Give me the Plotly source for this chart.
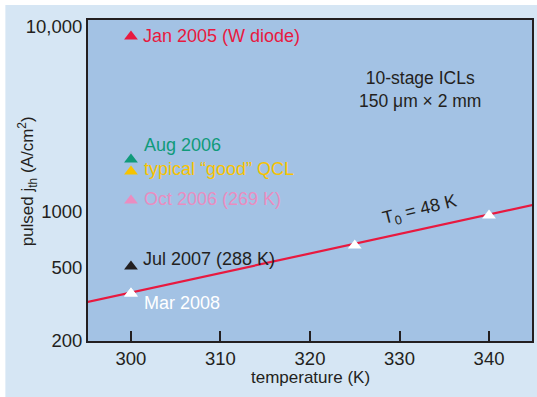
import plotly.graph_objects as go
import math

# ---- data ----
labels = ["Jan 2005 (W diode)", "Aug 2006", "typical \u201cgood\u201d QCL",
          "Oct 2006 (269 K)", "Jul 2007 (288 K)", "Mar 2008"]
label_temps = [300, 300, 300, 300, 300, 300]
label_jth = [8850, 1914, 1648, 1148, 506, 361]
label_colors = ["#e8193f", "#0f9a7a", "#f7c300", "#ea8dc0", "#231f20", "#ffffff"]

icl_temps = [300, 325, 340]
icl_jth = [361, 656, 953]

fit_temps = [295, 345]
fit_jth = [324, 1090]

x_ticks = [300, 310, 320, 330, 340]
y_ticks = [200, 500, 1000, 10000]
y_ticktext = ["200", "500", "1000", "10,000"]

# label pixel offsets (x, y) relative to their markers
label_shift = [(10, 0), (11, 15), (11, 3), (11, 2), (10, 7), (11, -9)]

FONT = "Liberation Sans, Arial, sans-serif"
DARK = "#231f20"
OUTER = "#d6e6f4"
INNER = "#a3c2e4"

fig = go.Figure()

fig.add_trace(go.Scatter(x=fit_temps, y=fit_jth, mode="lines",
                         line=dict(color="#e8193f", width=2.2),
                         showlegend=False, hoverinfo="skip", cliponaxis=True))

for t, j, c, name in zip(label_temps, label_jth, label_colors, labels):
    fig.add_trace(go.Scatter(x=[t], y=[j], mode="markers", name=name,
                             marker=dict(symbol="triangle-up", size=12, color=c,
                                         line=dict(width=0)),
                             showlegend=False))

fig.add_trace(go.Scatter(x=icl_temps, y=icl_jth, mode="markers", name="ICL",
                         marker=dict(symbol="triangle-up", size=12, color="#ffffff",
                                     line=dict(width=0)),
                         showlegend=False))

annotations = []
for t, j, c, name, (dx, dy) in zip(label_temps, label_jth, label_colors, labels, label_shift):
    annotations.append(dict(x=t, y=math.log10(j), xref="x", yref="y", text=name,
                            showarrow=False, xanchor="left", yanchor="middle",
                            xshift=dx, yshift=dy,
                            font=dict(family=FONT, size=18, color=c)))

annotations.append(dict(x=332.3, y=math.log10(4600), xref="x", yref="y",
                        text="10-stage ICLs<br>150 \u03bcm \u00d7 2 mm", showarrow=False,
                        xanchor="center", yanchor="middle", align="center",
                        font=dict(family=FONT, size=17.5, color=DARK)))
annotations.append(dict(x=332.3, y=math.log10(1020), xref="x", yref="y",
                        text="T<sub>0</sub> = 48 K", showarrow=False, textangle=-14,
                        xanchor="center", yanchor="middle",
                        font=dict(family=FONT, size=18, color=DARK)))
annotations.append(dict(x=-0.137, y=0.498, xref="paper", yref="paper",
                        text="pulsed j<sub>th</sub> (A/cm<sup>2</sup>)", showarrow=False,
                        textangle=-90, xanchor="center", yanchor="middle",
                        font=dict(family=FONT, size=17, color=DARK)))
annotations.append(dict(x=0.5, y=-0.115, xref="paper", yref="paper",
                        text="temperature (K)", showarrow=False,
                        xanchor="center", yanchor="middle",
                        font=dict(family=FONT, size=17, color=DARK)))

shapes = [
    dict(type="rect", xref="paper", yref="paper", x0=-0.25, x1=1.05, y0=1.0467, y1=1.10,
         fillcolor="#ffffff", line=dict(width=0), layer="above"),
    dict(type="rect", xref="paper", yref="paper", x0=-0.25, x1=-0.1861, y0=-0.3, y1=1.10,
         fillcolor="#ffffff", line=dict(width=0), layer="above"),
]

fig.update_layout(
    width=537, height=397,
    margin=dict(l=88, r=3, t=20, b=56, pad=0),
    paper_bgcolor=OUTER, plot_bgcolor=INNER,
    font=dict(family=FONT, size=18, color=DARK),
    annotations=annotations, shapes=shapes,
    showlegend=False,
)
fig.update_xaxes(range=[295.2, 344.8], tickvals=x_ticks, ticks="inside", ticklen=10,
                 tickwidth=1.5, tickcolor=DARK, showgrid=False, zeroline=False,
                 showline=True, mirror=True, linewidth=2, linecolor=DARK,
                 tickfont=dict(family=FONT, size=18.5, color=DARK))
fig.update_yaxes(type="log", range=[math.log10(200), 4.036], tickvals=y_ticks,
                 ticktext=y_ticktext, ticks="", showgrid=False, zeroline=False,
                 showline=True, mirror=True, linewidth=2, linecolor=DARK,
                 tickfont=dict(family=FONT, size=18.5, color=DARK))

fig.write_html("out.html")
